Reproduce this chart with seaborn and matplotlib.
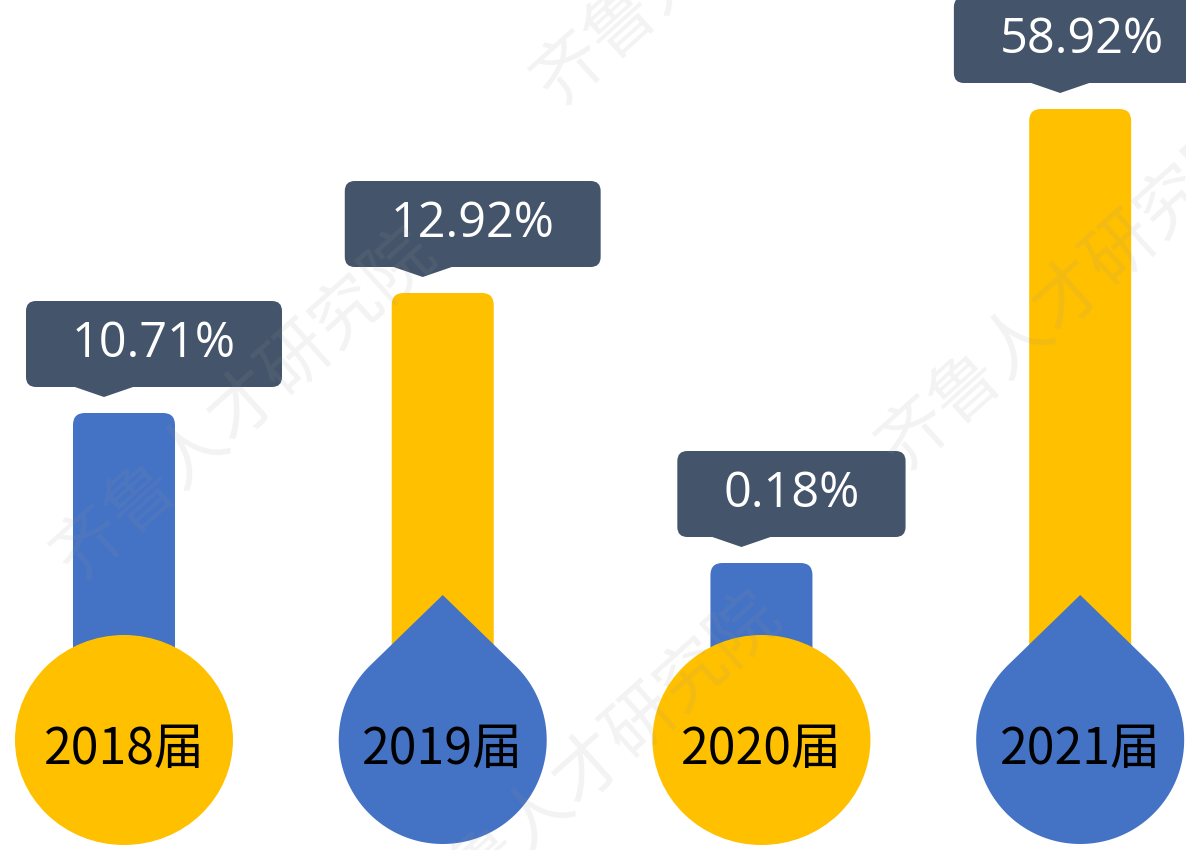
import numpy as np
import pandas as pd
import matplotlib
matplotlib.use("Agg")
import matplotlib.pyplot as plt
from matplotlib.patches import FancyBboxPatch, Ellipse, Polygon
import seaborn as sns

years = ["2018届", "2019届", "2020届", "2021届"]
rates = [10.71, 12.92, 0.18, 58.92]
# bar lengths as drawn in the original graphic (not proportional to the rates)
bar_len = [327, 447, 177, 631]
bulb = ["circle", "drop", "circle", "drop"]

BLUE = "#4472C4"
YELLOW = "#FFC000"
SLATE = "#44546A"

sns.set_theme(style="white")
plt.rcParams["font.family"] = ["Open Sans", "Noto Sans CJK SC", "DejaVu Sans"]

fig = plt.figure(figsize=(11.86, 8.5), dpi=100)
ax = fig.add_axes([0, 0, 1, 1])

df = pd.DataFrame({"year": years, "len": bar_len, "rate": rates})
bar_colors = [BLUE if i % 2 == 0 else YELLOW for i in range(len(years))]
sns.barplot(data=df, x="year", y="len", hue="year", palette=bar_colors,
            width=0.32, saturation=1, legend=False, ax=ax)

XL = (-0.389, 3.332)
YL = (-110, 740)
ax.set_xlim(*XL)
ax.set_ylim(*YL)
SX = 1186 / (XL[1] - XL[0])   # px per x unit
SY = 850 / (YL[1] - YL[0])    # px per y unit
ASP = SX / SY

# rounded bar tops
for p in list(ax.patches):
    x0, y0, w, h = p.get_x(), p.get_y(), p.get_width(), p.get_height()
    fc = p.get_facecolor()
    p.remove()
    ax.add_patch(FancyBboxPatch((x0, y0), w, h,
                                boxstyle=f"round,pad=0,rounding_size={12 / SX}",
                                mutation_aspect=ASP, fc=fc, ec="none", zorder=2))

# bulbs at the bottom of each bar
for i, shape in enumerate(bulb):
    col = YELLOW if bar_colors[i] == BLUE else BLUE
    if shape == "circle":
        ax.add_patch(Ellipse((i, 0), 2 * 109 / SX, 2 * 105 / SY, fc=col, ec="none", zorder=3))
    else:
        r, d = 104, 145
        th = np.arccos(r / d)
        a = np.linspace(np.pi / 2 - th, np.pi / 2 + th - 2 * np.pi, 120)
        xs = list(i + r * np.cos(a) / SX) + [i]
        ys = list(r * np.sin(a) / SY) + [d / SY]
        ax.add_patch(Polygon(np.column_stack([xs, ys]), closed=True, fc=col, ec="none", zorder=3))
    ax.text(i, -10 / SY, years[i], ha="center", va="center", fontsize=36,
            family=["Noto Sans CJK SC", "DejaVu Sans"], color="black", zorder=5)

# value callouts
fig.canvas.draw()
rend = fig.canvas.get_renderer()
for i, (v, h) in enumerate(zip(rates, bar_len)):
    bx = i + 30 / SX
    tip_y = h + 16 / SY
    box_y0 = h + 26 / SY
    box_h = 86 / SY
    t = ax.text(bx, box_y0 + box_h / 2, f"{v:.2f}%", ha="center", va="center",
                fontsize=35, color="white", zorder=7)
    tw = t.get_window_extent(renderer=rend).width
    # keep the value readable at the right edge
    right_px = (bx - XL[0]) * SX + tw / 2
    if right_px > 1164:
        bx -= (right_px - 1164) / SX
        t.set_x(bx)
    bw = (tw + 92) / SX
    ax.add_patch(FancyBboxPatch((bx - bw / 2, box_y0), bw, box_h,
                                boxstyle=f"round,pad=0,rounding_size={10 / SX}",
                                mutation_aspect=ASP, fc=SLATE, ec="none", zorder=6))
    tx = i - 20 / SX
    ax.add_patch(Polygon([[tx - 32 / SX, box_y0 + 1], [tx, tip_y], [tx + 32 / SX, box_y0 + 1]],
                         closed=True, fc=SLATE, ec="none", zorder=6))

# faint watermark
def px(xp, yp):
    return xp / SX + XL[0], (740 - yp) / SY

for cx, cy in [(245, 405), (1070, 295), (725, -70), (590, 768)]:
    x, y = px(cx, cy)
    ax.text(x, y, "齐鲁人才研究院", rotation=42, ha="center", va="center",
            fontsize=50, color="#9a9a9a", alpha=0.12, zorder=9,
            family=["Noto Sans CJK SC"], rotation_mode="anchor")

ax.set_axis_off()
fig.savefig("out.png", dpi=100)
